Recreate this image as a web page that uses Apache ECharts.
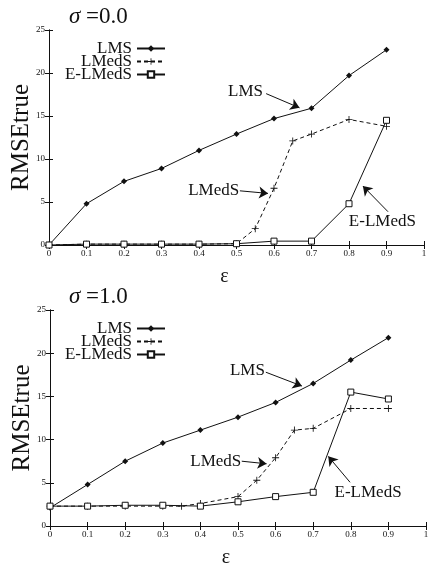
<!DOCTYPE html>
<html><head><meta charset="utf-8">
<script src="https://cdn.jsdelivr.net/npm/echarts@6/dist/echarts.min.js"></script>
<style>html,body{margin:0;padding:0;background:#fff}#c{width:431px;height:566px}</style>
</head><body><div id="c"></div>
<script>
// Data
var titleValues = ['0.0', '1.0'];
var seriesNames = ['LMS', 'LMedS', 'E-LMedS'];
var xTickLabels = ['0','0.1','0.2','0.3','0.4','0.5','0.6','0.7','0.8','0.9','1'];
var epsLMS = [0,0.1,0.2,0.3,0.4,0.5,0.6,0.7,0.8,0.9];
var epsLMedS = [0,0.1,0.2,0.3,0.4,0.5,0.55,0.6,0.65,0.7,0.8,0.9];
var epsELMedS = [0,0.1,0.2,0.3,0.4,0.5,0.6,0.7,0.8,0.9];
var epsLMedS1 = [0,0.1,0.2,0.3,0.35,0.4,0.5,0.55,0.6,0.65,0.7,0.8,0.9];
// sigma = 0.0
var lms0 = [0,4.8,7.4,8.9,11.0,12.9,14.7,15.9,19.7,22.7];
var lmeds0 = [0,0.1,0.1,0.1,0.1,0.15,1.9,6.6,12.1,12.9,14.6,13.8];
var elmeds0 = [0,0.1,0.1,0.1,0.1,0.15,0.45,0.45,4.8,14.5];
// sigma = 1.0
var lms1 = [2.1,4.8,7.5,9.6,11.1,12.6,14.3,16.5,19.2,21.8];
var lmeds1 = [2.3,2.3,2.3,2.3,2.3,2.6,3.4,5.3,7.9,11.1,11.3,13.6,13.6];
var elmeds1 = [2.3,2.3,2.4,2.4,2.3,2.8,3.4,3.9,15.5,14.7];
// annotations: [text, textX, textY, arrowStartX, arrowStartY, arrowEndX, arrowEndY]
var notes0 = [
  ['LMS', 0.524, 17.9, 0.579, 17.6, 0.668, 15.95],
  ['LMedS', 0.439, 6.28, 0.509, 6.3, 0.584, 6.0],
  ['E-LMedS', 0.889, 2.73, 0.904, 3.87, 0.837, 6.86]
];
var notes1 = [
  ['LMS', 0.525, 17.95, 0.574, 17.8, 0.670, 16.2],
  ['LMedS', 0.441, 7.45, 0.51, 7.5, 0.576, 7.2],
  ['E-LMedS', 0.846, 3.87, 0.798, 5.06, 0.740, 8.06]
];

var FONT = '"Liberation Serif", "DejaVu Serif", serif';
var INK = '#111';
var plusPath = 'path://M4.4,0H5.6V4.4H10V5.6H5.6V10H4.4V5.6H0V4.4H4.4Z';

function zip(xs, ys){ return xs.map(function(x,i){ return [x, ys[i]]; }); }

var grids = [
  {left: 49, right: 7, top: 30, height: 215, outerBoundsMode: 'none', containLabel: false},
  {left: 50, right: 5, top: 310, height: 216, outerBoundsMode: 'none', containLabel: false}
];

var xAxes = [], yAxes = [], series = [], legends = [], titleArr = [];
grids.forEach(function(g, gi){
  xAxes.push({
    type: 'value', gridIndex: gi, min: 0, max: 1, interval: 0.1, position: 'bottom',
    name: 'ε', nameLocation: 'middle', nameGap: 22, nameMoveOverlap: false,
    nameTextStyle: {fontFamily: FONT, fontSize: 20, color: INK, padding: [0, 24, 0, 0]},
    axisLine: {show: true, lineStyle: {color: INK, width: 1}},
    axisTick: {show: true, inside: true, length: 4, lineStyle: {color: INK}},
    axisLabel: {fontFamily: FONT, fontSize: 9, color: INK, margin: 4,
      formatter: function(v){ return xTickLabels[Math.round(v*10)]; }},
    splitLine: {show: false}
  });
  xAxes.push({
    type: 'value', gridIndex: gi, min: 0, max: 1, interval: 0.1, position: 'top',
    axisLine: {show: true, lineStyle: {color: INK, width: 1}},
    axisTick: {show: true, inside: true, length: 4, lineStyle: {color: INK}},
    axisLabel: {show: false}, splitLine: {show: false}
  });
  yAxes.push({
    type: 'value', gridIndex: gi, min: 0, max: 25, interval: 5, position: 'left',
    name: 'RMSEtrue', nameLocation: 'middle', nameGap: 15, nameRotate: 90,
    nameMoveOverlap: false,
    nameTextStyle: {fontFamily: FONT, fontSize: 25, color: INK},
    axisLine: {show: true, lineStyle: {color: INK, width: 1}},
    axisTick: {show: true, inside: true, length: 4, lineStyle: {color: INK}},
    axisLabel: {fontFamily: FONT, fontSize: 9, color: INK, margin: 4},
    splitLine: {show: false}
  });
  yAxes.push({
    type: 'value', gridIndex: gi, min: 0, max: 25, interval: 5, position: 'right',
    axisLine: {show: true, lineStyle: {color: INK, width: 1}},
    axisTick: {show: true, inside: true, length: 4, lineStyle: {color: INK}},
    axisLabel: {show: false}, splitLine: {show: false}
  });
  titleArr.push({
    text: '{s|σ} =' + titleValues[gi], left: 64, top: g.top - 30,
    textStyle: {fontFamily: FONT, fontSize: 23, fontWeight: 'normal', color: INK,
      rich: {s: {fontFamily: FONT, fontSize: 23, fontStyle: 'italic', color: INK}}}
  });
});

function addSeries(gi, lms, lmedsX, lmeds, elmeds, notes){
  var xi = gi*2, yi = gi*2;
  series.push({
    name: 'LMS', type: 'line', xAxisIndex: xi, yAxisIndex: yi,
    data: zip(epsLMS, lms), symbol: 'diamond', symbolSize: 6, showSymbol: true,
    lineStyle: {color: INK, width: 1}, itemStyle: {color: INK},
    animation: false, z: 3,
    markLine: {
      silent: true, symbol: ['none', 'arrow'], symbolSize: 9,
      lineStyle: {color: INK, width: 1, type: 'solid'},
      itemStyle: {color: INK},
      label: {show: false}, animation: false,
      data: notes.map(function(n){ return [{coord: [n[3], n[4]]}, {coord: [n[5], n[6]]}]; })
    },
    markPoint: {
      silent: true, symbol: 'circle', symbolSize: 0, animation: false,
      label: {show: true, position: 'inside', fontFamily: FONT, fontSize: 17, color: INK,
        formatter: function(p){ return p.name; }},
      data: notes.map(function(n){ return {name: n[0], coord: [n[1], n[2]]}; })
    }
  });
  series.push({
    name: 'LMedS', type: 'line', xAxisIndex: xi, yAxisIndex: yi,
    data: zip(lmedsX, lmeds), symbol: plusPath, symbolSize: 7, showSymbol: true,
    lineStyle: {color: INK, width: 1, type: [4, 3]}, itemStyle: {color: INK},
    animation: false, z: 2
  });
  series.push({
    name: 'E-LMedS', type: 'line', xAxisIndex: xi, yAxisIndex: yi,
    data: zip(epsELMedS, elmeds), symbol: 'rect', symbolSize: 6, showSymbol: true,
    lineStyle: {color: INK, width: 1}, itemStyle: {color: '#fff', borderColor: INK, borderWidth: 1},
    animation: false, z: 4
  });
  var rowTops = [40, 53, 66];
  seriesNames.forEach(function(nm, k){
    legends.push({
      data: [nm], right: 265, top: grids[gi].top - 30 + rowTops[k],
      align: 'right', orient: 'horizontal', itemWidth: 28, itemHeight: 8,
      selectedMode: false, padding: 0,
      textStyle: {fontFamily: FONT, fontSize: 17, color: INK, lineHeight: 14}
    });
  });
}
addSeries(0, lms0, epsLMedS, lmeds0, elmeds0, notes0);
addSeries(1, lms1, epsLMedS1, lmeds1, elmeds1, notes1);

var chart = echarts.init(document.getElementById('c'), null, {renderer: 'canvas'});
chart.setOption({
  backgroundColor: '#fff',
  animation: false,
  title: titleArr,
  legend: legends,
  grid: grids,
  xAxis: xAxes,
  yAxis: yAxes,
  series: series
});
</script>
</body></html>
